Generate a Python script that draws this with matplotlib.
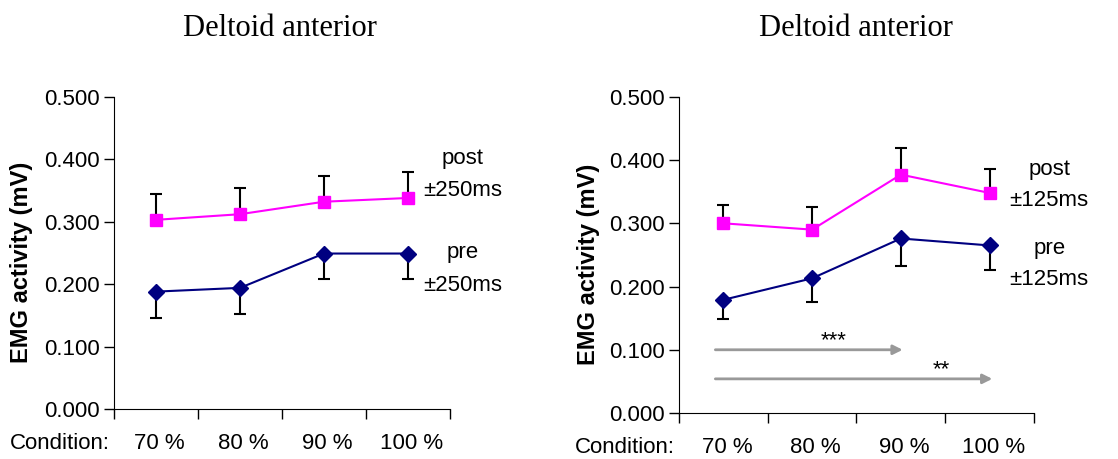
import numpy as np
import matplotlib.pyplot as plt

# data
conditions = ['70 %', '80 %', '90 %', '100 %']

post_250 = [0.303, 0.312, 0.332, 0.338]
post_250_err = [0.042, 0.042, 0.041, 0.042]
pre_250 = [0.188, 0.194, 0.249, 0.249]
pre_250_err = [0.042, 0.042, 0.041, 0.041]

post_125 = [0.300, 0.290, 0.377, 0.348]
post_125_err = [0.029, 0.036, 0.042, 0.038]
pre_125 = [0.179, 0.213, 0.276, 0.265]
pre_125_err = [0.030, 0.037, 0.043, 0.039]

yticks = [0.0, 0.1, 0.2, 0.3, 0.4, 0.5]

pink = '#FF00FF'
navy = '#000080'
fs = 16

fig = plt.figure(figsize=(11.18, 4.59), dpi=100)
plt.rcParams['font.family'] = ['Liberation Sans', 'DejaVu Sans']

ax1 = fig.add_axes([0.102, 0.109, 0.3005, 0.680])
ax2 = fig.add_axes([0.6073, 0.1002, 0.3176, 0.6888])

def draw_panel(ax, post, post_err, pre, pre_err, suffix, lab_x, lab_y, ylab_x, cond_y):
    x = np.arange(len(conditions)) + 0.5
    zeros = np.zeros(len(conditions))
    # one-sided error bars: post upwards, pre downwards
    ax.errorbar(x, post, yerr=[zeros, post_err], fmt='none', ecolor='black',
                elinewidth=1.5, capsize=4.5, capthick=1.5, zorder=2)
    ax.errorbar(x, pre, yerr=[pre_err, zeros], fmt='none', ecolor='black',
                elinewidth=1.5, capsize=4.5, capthick=1.5, zorder=2)
    ax.plot(x, post, color=pink, marker='s', markersize=9, linewidth=1.5, zorder=3)
    ax.plot(x, pre, color=navy, marker='D', markersize=8, linewidth=1.5, zorder=3)

    ax.set_xlim(0, 4)
    ax.set_ylim(0, 0.5)
    ax.set_yticks(yticks)
    ax.set_yticklabels(['%.3f' % v for v in yticks], fontsize=fs)
    ax.set_xticks([0, 1, 2, 3, 4])
    ax.set_xticklabels([])
    ax.tick_params(axis='x', which='major', length=7, width=1)
    ax.tick_params(axis='y', length=7, width=1, pad=3)
    ax.spines['top'].set_visible(False)
    ax.spines['right'].set_visible(False)
    ax.set_ylabel('EMG activity (mV)', fontsize=17, fontweight='bold')
    ax.yaxis.set_label_coords(ylab_x, 0.47)

    trans = ax.get_xaxis_transform()
    for xi, c in zip(x, conditions):
        ax.text(xi + 0.04, cond_y, c, fontsize=fs, ha='center', va='center',
                transform=trans, clip_on=False)
    ax.text(-0.05, cond_y, 'Condition:', fontsize=fs, ha='right', va='center',
            transform=trans, clip_on=False)

    ax.text(lab_x, lab_y[0], 'post', fontsize=fs, ha='center', va='center')
    ax.text(lab_x, lab_y[1], '\u00b1' + suffix, fontsize=fs, ha='center', va='center')
    ax.text(lab_x, lab_y[2], 'pre', fontsize=fs, ha='center', va='center')
    ax.text(lab_x, lab_y[3], '\u00b1' + suffix, fontsize=fs, ha='center', va='center')

draw_panel(ax1, post_250, post_250_err, pre_250, pre_250_err, '250ms',
           4.15, [0.401, 0.350, 0.250, 0.197], -0.242, -0.11)
draw_panel(ax2, post_125, post_125_err, pre_125, pre_125_err, '125ms',
           4.17, [0.385, 0.336, 0.260, 0.211], -0.222, -0.108)

# titles
fig.text(280 / 1118, 1 - 28 / 459, 'Deltoid anterior', fontfamily='Liberation Serif',
         fontsize=22, ha='center', va='center')
fig.text(856 / 1118, 1 - 28 / 459, 'Deltoid anterior', fontfamily='Liberation Serif',
         fontsize=22, ha='center', va='center')

# significance arrows on the right panel
for x0, x1, y, stars, sx, sy in [(0.41, 2.52, 0.100, '***', 1.74, 0.114),
                                 (0.41, 3.53, 0.054, '**', 2.96, 0.068)]:
    ax2.annotate('', xy=(x1, y), xytext=(x0, y),
                 arrowprops=dict(arrowstyle='-|>', color='#999999', lw=2,
                                 mutation_scale=14, shrinkA=0, shrinkB=0))
    ax2.text(sx, sy, stars, fontsize=16, ha='center', va='center')

fig.savefig('out.png', dpi=100)
